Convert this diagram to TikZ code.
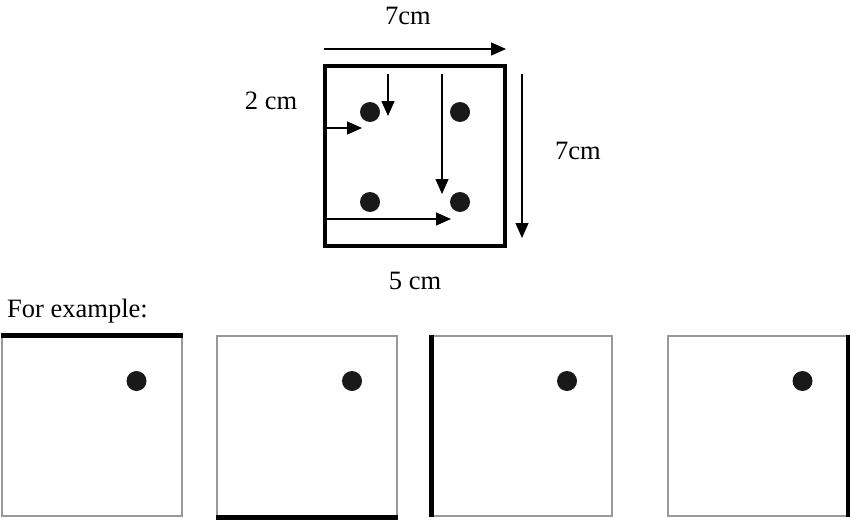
\documentclass[tikz,border=0pt]{standalone}
\usepackage{fontspec}
\setmainfont{Liberation Serif}
\usetikzlibrary{arrows.meta,positioning}

\tikzset{
  dot/.style={circle, fill=black!90, inner sep=0pt, minimum size=20pt},
  dimarrow/.style={-{Triangle[length=15pt,width=13pt]}, line width=1.3pt},
  dimtext/.style={font=\fontsize{26.5}{30}\selectfont, inner sep=0pt},
  example/.style={draw=black!40, line width=2pt, minimum size=180pt, inner sep=0pt},
  thickedge/.style={line width=5pt, line cap=butt}
}

\begin{document}
\begin{tikzpicture}[x=1pt, y=-1pt]
    \useasboundingbox (0,0) rectangle (850,519);

    % the board with its four dots
    \node[draw, line width=4.5pt, minimum size=180pt, inner sep=0pt] (board) at (415,156) {};
    \node[dot] (d1) at (370,112) {};
    \node[dot] (d2) at (460,112) {};
    \node[dot] (d3) at (370,202) {};
    \node[dot] (d4) at (460,202) {};

    \coordinate (top-a) at (324,49);   \coordinate (top-b) at (506,49);
    \coordinate (rgt-a) at (522,74);   \coordinate (rgt-b) at (522,238);
    \coordinate (sd-a) at (388,74);    \coordinate (sd-b) at (388,116);
    \coordinate (ld-a) at (442,74);    \coordinate (ld-b) at (442,194);
    \coordinate (sr-a) at (326,128);   \coordinate (sr-b) at (362,128);
    \coordinate (br-a) at (326,219);   \coordinate (br-b) at (451,219);

    \draw[dimarrow] (top-a) -- (top-b);
    \draw[dimarrow] (rgt-a) -- (rgt-b);
    \draw[dimarrow] (sd-a) -- (sd-b);
    \draw[dimarrow] (ld-a) -- (ld-b);
    \draw[dimarrow] (sr-a) -- (sr-b);
    \draw[dimarrow] (br-a) -- (br-b);

    \node[dimtext] (w-top) at (408,16) {7cm};
    \node[dimtext] (h-rgt) at (578,151) {7cm};
    \node[dimtext] (gap) at (271,101) {2 cm};
    \node[dimtext] (w-bot) at (415,281) {5 cm};

    % examples
    \node[dimtext, anchor=west] (forex) at (7,311) {For example:};
    \foreach \cx/\from/\to [count=\i] in {91.5/north west/north east,
            307/south west/south east, 522/north west/south west,
            757.5/north east/south east} {
        \node[example] (ex\i) at (\cx,426) {};
        \node[dot] (exdot\i) at ([xshift=45pt,yshift=45pt]ex\i.center) {};
        \draw[thickedge] (ex\i.\from) -- (ex\i.\to);
    }
\end{tikzpicture}
\end{document}
